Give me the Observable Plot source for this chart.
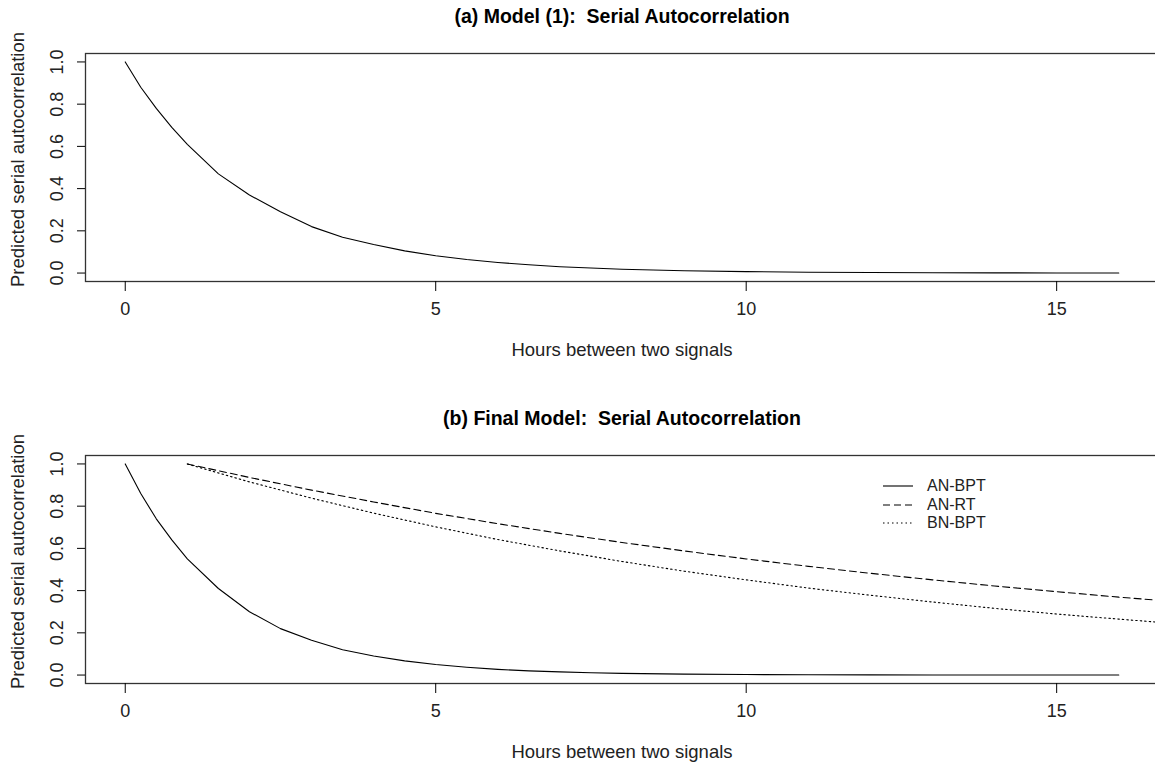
<!DOCTYPE html>
<html><head><meta charset="utf-8">
<script src="https://cdn.jsdelivr.net/npm/d3@7"></script>
<script src="https://cdn.jsdelivr.net/npm/@observablehq/plot@0.6"></script>
<style>
html,body{margin:0;padding:0;background:#fff;overflow:hidden;}
#wrap{position:relative;width:1155px;height:766px;overflow:hidden;font-family:"Liberation Sans",Arial,sans-serif;}
#wrap svg{display:block;max-width:none !important;}
.legend{position:absolute;left:883px;top:477px;font-size:16px;color:#222;}
.legend .row{display:flex;align-items:center;height:18.5px;}
.legend svg{margin-right:14px;}
</style></head><body><div id="wrap"></div>
<script>
// Hours between two signals (sample points)
const hours = [0,0.25,0.5,0.75,1,1.5,2,2.5,3,3.5,4,4.5,5,5.5,6,6.5,7,7.5,8,9,10,11,12,13,14,15,16];
// (a) Model (1)
const modelA = [1.00,0.88,0.78,0.69,0.61,0.47,0.37,0.29,0.22,0.17,0.135,0.105,0.082,0.064,0.05,0.039,0.03,0.024,0.018,0.011,0.007,0.004,0.0025,0.0015,0.001,0.0006,0.0003];
// (b) Final model, AN-BPT
const finalAnBpt = [1.00,0.86,0.74,0.64,0.55,0.41,0.30,0.22,0.165,0.12,0.09,0.067,0.05,0.037,0.027,0.02,0.015,0.011,0.008,0.0045,0.0025,0.0014,0.0007,0.0004,0.0002,0.0001,0.0001];
// (b) Final model, AN-RT and BN-BPT start at 1 hour
const hoursLag = [1,2,3,4,5,6,7,8,9,10,11,12,13,14,15,16,17,18];
const finalAnRt = [1.00,0.936,0.876,0.820,0.766,0.717,0.671,0.628,0.588,0.550,0.515,0.482,0.451,0.422,0.395,0.369,0.346,0.323];
const finalBnBpt = [1.00,0.915,0.838,0.767,0.702,0.642,0.588,0.538,0.492,0.451,0.412,0.378,0.346,0.316,0.289,0.265,0.242,0.222];

const xTicks = [0,5,10,15];
const yTicks = [0,0.2,0.4,0.6,0.8,1.0];
const seriesNames = ["AN-BPT","AN-RT","BN-BPT"];
const dashes = ["none","7,4","1.5,3"];
const titles = ["(a) Model (1):  Serial Autocorrelation","(b) Final Model:  Serial Autocorrelation"];
const xLabel = "Hours between two signals";
const yLabel = "Predicted serial autocorrelation";

const font = '"Liberation Sans", Arial, sans-serif';
const toRows = (xs, ys) => xs.map((h, i) => ({h, v: ys[i]}));

function panel(title, series, marginTop, marginBottom) {
  const svg = Plot.plot({
    width: 1160, height: 383,
    marginLeft: 85, marginRight: 2, marginTop, marginBottom,
    x: {domain: [-0.64, 16.64]},
    y: {domain: [-0.04, 1.04]},
    style: {fontFamily: font, fontSize: "18px", color: "#000", background: "#fff", maxWidth: "none"},
    marks: [
      ...series.map(s => Plot.line(s.data, {x: "h", y: "v", stroke: "#000", strokeWidth: 1.1, strokeDasharray: s.dash, clip: true})),
      Plot.frame({stroke: "#333", strokeWidth: 1.3}),
      Plot.axisX(xTicks, {tickSize: 10, tickPadding: 11, label: null, fontSize: 18, stroke: "#000", fill: "#222"}),
      Plot.axisY(yTicks, {tickSize: 8, tickFormat: () => "", label: null, stroke: "#000"}),
      Plot.text(yTicks, {y: d => d, frameAnchor: "left", text: d => d.toFixed(1), rotate: -90, dx: -28, textAnchor: "middle", lineAnchor: "middle", fontSize: 18, fill: "#222"}),
      Plot.text([title], {frameAnchor: "top", dy: -37, textAnchor: "middle", lineAnchor: "middle", fontWeight: "bold", fontSize: 19.5, fill: "#000"}),
      Plot.text([xLabel], {frameAnchor: "bottom", dy: 69, textAnchor: "middle", lineAnchor: "middle", fontSize: 18.5, fill: "#222"}),
      Plot.text([yLabel], {frameAnchor: "left", dx: -67, dy: -8, rotate: -90, textAnchor: "middle", lineAnchor: "middle", fontSize: 18.5, fill: "#222"})
    ]
  });
  svg.style.maxWidth = "none";
  return svg;
}

const wrap = document.getElementById("wrap");
wrap.appendChild(panel(titles[0], [{data: toRows(hours, modelA), dash: "none"}], 53, 102));
wrap.appendChild(panel(titles[1], [
  {data: toRows(hours, finalAnBpt), dash: dashes[0]},
  {data: toRows(hoursLag, finalAnRt), dash: dashes[1]},
  {data: toRows(hoursLag, finalBnBpt), dash: dashes[2]}
], 72, 83));

const legend = document.createElement("div");
legend.className = "legend";
seriesNames.forEach((name, i) => {
  const row = document.createElement("div");
  row.className = "row";
  row.innerHTML = `<svg width="30" height="10"><line x1="0" x2="30" y1="5" y2="5" stroke="#000" stroke-width="1.1" stroke-dasharray="${dashes[i]}"/></svg><span>${name}</span>`;
  legend.appendChild(row);
});
wrap.appendChild(legend);
</script></body></html>
